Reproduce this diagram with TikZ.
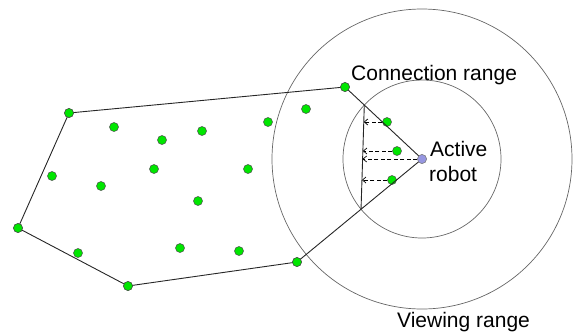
\documentclass[tikz,border=0pt]{standalone}
\usepackage{fontspec}
\setmainfont{Liberation Sans}
\usetikzlibrary{calc,arrows.meta}
\begin{document}
\begin{tikzpicture}[x=1pt,y=-1pt,
  gdot/.style={circle,draw=black!70,line width=0.5pt,fill={rgb,255:red,0;green,230;blue,0},inner sep=0pt,minimum size=9pt},
  robotdot/.style={circle,draw=black!50,line width=0.5pt,fill={rgb,255:red,150;green,150;blue,225},inner sep=0pt,minimum size=9pt},
  rangecirc/.style={draw=black!60,line width=0.7pt},
  hull/.style={draw=black!85,line width=0.9pt},
  probe/.style={dashed,dash pattern=on 4pt off 2.5pt,line width=0.7pt,-{Straight Barb[length=3.5pt,width=6pt]}},
  lbl/.style={font=\fontsize{21}{25}\selectfont,inner sep=0pt}]
\useasboundingbox (0,0) rectangle (578,333);
\coordinate (rc) at (422,159);
% ranges
\draw[rangecirc] (rc) circle (150);
\draw[rangecirc] (rc) circle (79);
% dots
\node[gdot] (d1) at (69,113) {};
\node[gdot] (d2) at (114,127) {};
\node[gdot] (d3) at (162,140) {};
\node[gdot] (d4) at (202,131) {};
\node[gdot] (d5) at (268,122) {};
\node[gdot] (d6) at (52,176) {};
\node[gdot] (d7) at (101,186) {};
\node[gdot] (d8) at (154,169) {};
\node[gdot] (d9) at (248,169) {};
\node[gdot] (d10) at (198,201) {};
\node[gdot] (d11) at (18,228) {};
\node[gdot] (d12) at (78,253) {};
\node[gdot] (d13) at (180,248) {};
\node[gdot] (d14) at (239,251) {};
\node[gdot] (d15) at (128,286) {};
\node[gdot] (d16) at (297,262) {};
\node[gdot] (d17) at (345,87) {};
\node[gdot] (d18) at (306,109) {};
\node[gdot] (d19) at (387,122) {};
\node[gdot] (d20) at (397,151) {};
\node[gdot] (d21) at (392,180) {};
\node[robotdot] (robot) at (rc) {};
% hull
\draw[hull] (d1.center) -- (d17.center) -- (robot.center) -- (d16.center) -- (d15.center) -- (d11.center) -- cycle;
% chord where the hull meets the connection range
\coordinate (ct) at ($(robot.center)!79pt!(d17.center)$);
\coordinate (cb) at ($(robot.center)!79pt!(d16.center)$);
\draw[hull] (ct) -- (cb);
% probes
\coordinate (p19) at ($(ct)!0.16!(cb)$);
\coordinate (p20) at ($(ct)!0.435!(cb)$);
\coordinate (pr) at ($(ct)!0.52!(cb)$);
\coordinate (p21) at ($(ct)!0.72!(cb)$);
\draw[probe] (d19.west) -- (d19.west -| p19);
\draw[probe] (d20.west) -- (d20.west -| p20);
\draw[probe] (robot.west) -- (robot.west -| pr);
\draw[probe] (d21.west) -- (d21.west -| p21);
% redraw dots over lines
\foreach \n in {d1,d11,d15,d16,d17} {\node[gdot] at (\n) {};}
\node[robotdot] at (robot) {};
% labels
\node[lbl,anchor=base west] (conn) at (351,80) {Connection range};
\node[lbl,anchor=base west] (act) at (430,156) {Active};
\node[lbl,anchor=base west] (rob) at (429,181) {robot};
\node[lbl,anchor=base west] (view) at (397,327) {Viewing range};
\end{tikzpicture}
\end{document}
